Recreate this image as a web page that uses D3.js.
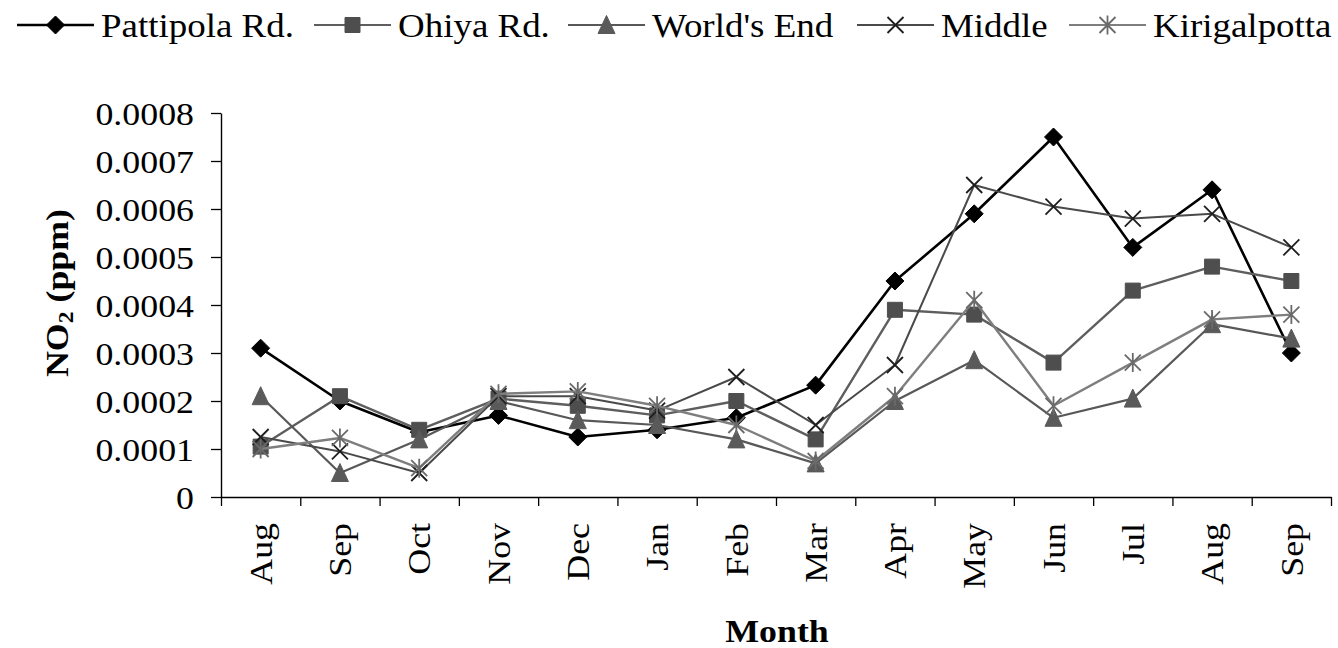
<!DOCTYPE html>
<html><head><meta charset="utf-8">
<script src="https://cdn.jsdelivr.net/npm/d3@7"></script>
<style>
html,body{margin:0;padding:0;background:#fff;}
text{font-family:"Liberation Serif","Times New Roman",serif;fill:#000;}
</style></head>
<body><svg id="chart" width="1338" height="648"></svg>
<script>
const monthLabels = ["Aug","Sep","Oct","Nov","Dec","Jan","Feb","Mar","Apr","May","Jun","Jul","Aug","Sep"];
const yTicks = [0,0.0001,0.0002,0.0003,0.0004,0.0005,0.0006,0.0007,0.0008];
const seriesNames = ["Pattipola Rd.","Ohiya Rd.","World's End","Middle","Kirigalpotta"];
const pattipola   = [0.00031,0.0002,0.000135,0.00017,0.000125,0.00014,0.000165,0.000233,0.00045,0.00059,0.00075,0.00052,0.00064,0.0003];
const ohiya       = [0.000105,0.00021,0.00014,0.000205,0.00019,0.00017,0.0002,0.00012,0.00039,0.00038,0.00028,0.00043,0.00048,0.00045];
const worldsEnd   = [0.00021,0.00005,0.00012,0.0002,0.00016,0.00015,0.00012,0.00007,0.0002,0.000285,0.000165,0.000205,0.00036,0.00033];
const middle      = [0.000125,0.000095,0.00005,0.00021,0.00021,0.00018,0.00025,0.00015,0.000275,0.00065,0.000605,0.00058,0.00059,0.00052];
const kirigalpotta= [0.0001,0.000123,0.00006,0.000215,0.00022,0.00019,0.00015,0.000075,0.00021,0.00041,0.00019,0.00028,0.00037,0.00038];

const seriesValues = [pattipola, ohiya, worldsEnd, middle, kirigalpotta];
const styles = [
  {line:"#000", lw:2.6, marker:"diamond", fill:"#000", stroke:"#000", size:15},
  {line:"#5e5e5e", lw:2.4, marker:"square", fill:"#4e4e4e", stroke:"#4e4e4e", size:15},
  {line:"#585858", lw:2.2, marker:"triangle", fill:"#5a5a5a", stroke:"#5a5a5a", size:15},
  {line:"#4a4a4a", lw:2, marker:"x", fill:"none", stroke:"#1e1e1e", size:16},
  {line:"#7e7e7e", lw:2.4, marker:"star", fill:"none", stroke:"#6a6a6a", size:16}
];

const SX = 1.12, FS = 32;
const svg = d3.select("#chart");
const L = 221, R = 1331, T = 113, B = 497;
const x = d3.scaleBand().domain(d3.range(monthLabels.length)).range([L,R]);
const xEdge = d3.scaleLinear().domain([0,monthLabels.length]).range([L,R]);
const y = d3.scaleLinear().domain([0,0.0008]).range([B,T]);

function markerPath(type, s){
  const h=s/2;
  if(type==="diamond") return `M0,${-h-1.5}L${h+1.5},0L0,${h+1.5}L${-h-1.5},0Z`;
  if(type==="square") return `M${-h},${-h}H${h}V${h}H${-h}Z`;
  if(type==="triangle") return `M0,${-h-2}L${h+1},${h+1}L${-h-1},${h+1}Z`;
  if(type==="x") return `M${-h},${-h}L${h},${h}M${-h},${h}L${h},${-h}`;
  if(type==="star") return `M${-h},${-h}L${h},${h}M${-h},${h}L${h},${-h}M0,${-h-1.5}V${h+1.5}`;
}
function drawMarker(g, st, cx, cy){
  const closed = st.marker!=="x" && st.marker!=="star";
  g.append("path").attr("d", markerPath(st.marker, st.size))
    .attr("transform",`translate(${cx},${cy})`)
    .attr("fill", closed?st.fill:"none")
    .attr("stroke", st.stroke)
    .attr("stroke-width", closed?1:1.8);
}

// Y axis
const yAxis = d3.axisLeft(y).tickValues(yTicks).tickSize(10).tickSizeOuter(0)
  .tickFormat(d => d===0 ? "0" : d.toFixed(4));
const gy = svg.append("g").attr("transform",`translate(${L},0)`).call(yAxis);
gy.select(".domain").attr("stroke","#000").attr("stroke-width",1.4);
gy.selectAll(".tick line").attr("stroke","#000").attr("stroke-width",1.3);
gy.selectAll(".tick text").attr("font-size",FS).attr("font-family","Liberation Serif")
  .attr("fill","#000").attr("x",-27/SX).attr("dy","0.35em")
  .attr("transform",`scale(${SX},1)`);

// X axis with ticks at category boundaries
const xTickAxis = d3.axisBottom(xEdge).tickValues(d3.range(monthLabels.length+1)).tickSize(9).tickSizeOuter(0).tickFormat("");
const gx = svg.append("g").attr("transform",`translate(0,${B})`).call(xTickAxis);
gx.select(".domain").attr("stroke","#000").attr("stroke-width",1.4);
gx.selectAll(".tick line").attr("stroke","#000").attr("stroke-width",1.3);

const xLabAxis = d3.axisBottom(x).tickSize(0).tickFormat(i => monthLabels[i]);
const gxl = svg.append("g").attr("transform",`translate(0,${B})`).call(xLabAxis);
gxl.select(".domain").remove();
gxl.selectAll(".tick text").attr("font-size",FS).attr("font-family","Liberation Serif")
  .attr("fill","#000").attr("text-anchor","end").attr("y",0).attr("dy","0.35em")
  .attr("transform",`translate(0,26) rotate(-90) scale(${SX},1)`);

// Series
seriesValues.forEach((vals, si) => {
  const st = styles[si];
  const g = svg.append("g");
  const line = d3.line().x((d,i)=>x(i)+x.bandwidth()/2).y(d=>y(d));
  g.append("path").datum(vals).attr("d", line).attr("fill","none")
    .attr("stroke", st.line).attr("stroke-width", st.lw).attr("stroke-linejoin","round");
  vals.forEach((v,i)=> drawMarker(g, st, x(i)+x.bandwidth()/2, y(v)));
});

// Legend
const legendX = [17, 314, 568, 857, 1069];
const legY = 25;
seriesNames.forEach((name, si) => {
  const st = styles[si];
  const g = svg.append("g");
  const x0 = legendX[si], x1 = x0+77;
  g.append("line").attr("x1",x0).attr("x2",x1).attr("y1",legY).attr("y2",legY)
    .attr("stroke", st.line).attr("stroke-width", si===0?2.6:2);
  drawMarker(g, st, (x0+x1)/2, legY);
  g.append("text").attr("transform",`translate(${x1+7},${legY}) scale(${SX},1)`)
    .attr("dy","0.35em").attr("font-size",FS+1).text(name);
});

// Axis titles
const yt = svg.append("text").attr("transform",`translate(57,293) rotate(-90) scale(${SX},1)`)
  .attr("text-anchor","middle").attr("dy","0.35em").attr("font-size",FS).attr("font-weight","bold");
yt.append("tspan").text("NO");
yt.append("tspan").attr("font-size",21).attr("dy",5).text("2");
yt.append("tspan").attr("dy",-5).text(" (ppm)");

svg.append("text").attr("transform",`translate(777,631) scale(${SX},1)`)
  .attr("text-anchor","middle").attr("dy","0.35em").attr("font-size",FS).attr("font-weight","bold").text("Month");
</script>
</body></html>
